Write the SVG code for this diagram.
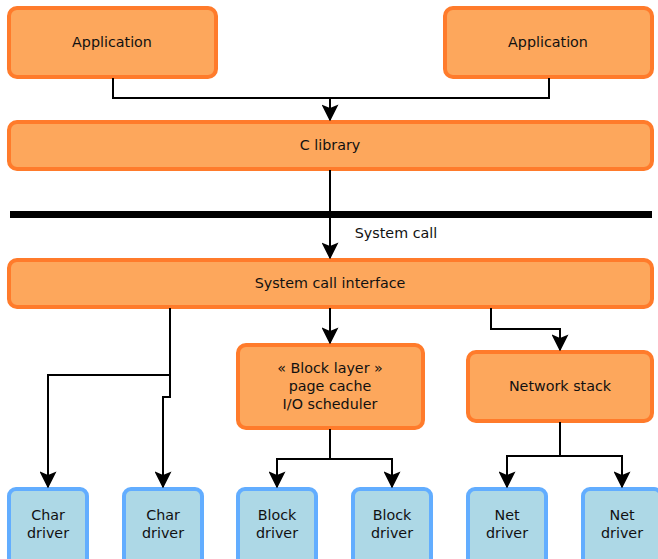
<svg xmlns="http://www.w3.org/2000/svg" width="658" height="559" viewBox="0 0 658 559">
<style>
.o{fill:#fda75c;stroke:#ff7b2b;stroke-width:4}
.b{fill:#add8e6;stroke:#62adff;stroke-width:4}
text{font-family:"DejaVu Sans",sans-serif;font-size:14.3px;fill:#111;text-anchor:middle}
.c{fill:none;stroke:#000;stroke-width:2}
</style>
<defs>
<marker id="a" viewBox="0 0 12 12" refX="11" refY="6" markerWidth="8.5" markerHeight="8.5" markerUnits="strokeWidth" orient="auto">
<path d="M0,0 L12,6 L0,12 L2.5,6 z" fill="#000"/>
</marker>
</defs>
<g id="app1"><rect class="o" x="9" y="8" width="207" height="69" rx="8"/><text x="112" y="47">Application</text></g>
<g id="app2"><rect class="o" x="445" y="8" width="207" height="69" rx="8"/><text x="548" y="47">Application</text></g>
<g id="clib"><rect class="o" x="9" y="122" width="643" height="47" rx="8"/><text x="330" y="150">C library</text></g>
<g id="barrier"><rect x="10" y="211" width="642" height="7" fill="#000"/><text x="396" y="238">System call</text></g>
<g id="sci"><rect class="o" x="9" y="260" width="643" height="47" rx="8"/><text x="330" y="288">System call interface</text></g>
<g id="block"><rect class="o" x="238" y="345" width="185" height="83" rx="8"/><text x="330" y="373">« Block layer »</text><text x="330" y="391">page cache</text><text x="330" y="409">I/O scheduler</text></g>
<g id="net"><rect class="o" x="468" y="352" width="184" height="69" rx="8"/><text x="560" y="391">Network stack</text></g>
<g id="char1"><rect class="b" x="9" y="489" width="78" height="80" rx="7"/><text x="48" y="520">Char</text><text x="48" y="538">driver</text></g>
<g id="char2"><rect class="b" x="124" y="489" width="78" height="80" rx="7"/><text x="163" y="520">Char</text><text x="163" y="538">driver</text></g>
<g id="blk1"><rect class="b" x="238" y="489" width="78" height="80" rx="7"/><text x="277" y="520">Block</text><text x="277" y="538">driver</text></g>
<g id="blk2"><rect class="b" x="353" y="489" width="78" height="80" rx="7"/><text x="392" y="520">Block</text><text x="392" y="538">driver</text></g>
<g id="net1"><rect class="b" x="468" y="489" width="78" height="80" rx="7"/><text x="507" y="520">Net</text><text x="507" y="538">driver</text></g>
<g id="net2"><rect class="b" x="583" y="489" width="78" height="80" rx="7"/><text x="622" y="520">Net</text><text x="622" y="538">driver</text></g>
<g id="connectors">
<path class="c" d="M113,78 V98 H330 V120" marker-end="url(#a)"/>
<path class="c" d="M549,78 V98 H330"/>
<path class="c" d="M330,170 V258" marker-end="url(#a)"/>
<path class="c" d="M330,308 V343" marker-end="url(#a)"/>
<path class="c" d="M491,308 V329 H560 V350" marker-end="url(#a)"/>
<path class="c" d="M170,308 V397 H163 V487" marker-end="url(#a)"/>
<path class="c" d="M170,375 H48 V487" marker-end="url(#a)"/>
<path class="c" d="M330,429 V459 H277 V487" marker-end="url(#a)"/>
<path class="c" d="M330,459 H392 V487" marker-end="url(#a)"/>
<path class="c" d="M560,422 V456 H507 V487" marker-end="url(#a)"/>
<path class="c" d="M560,456 H622 V487" marker-end="url(#a)"/>
</g>
</svg>
